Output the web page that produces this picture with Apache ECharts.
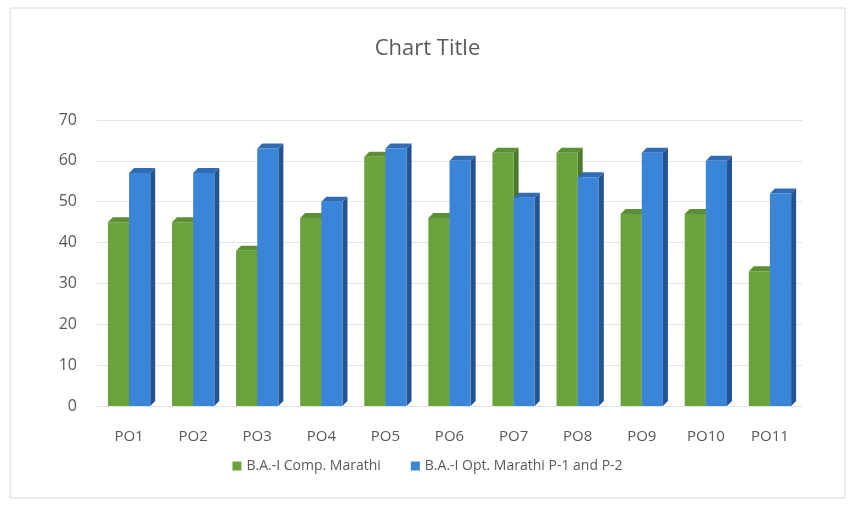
<!DOCTYPE html>
<html>
<head>
<meta charset="utf-8">
<script src="https://cdn.jsdelivr.net/npm/echarts@6/dist/echarts.min.js"></script>
<style>
  html, body { margin: 0; padding: 0; background: #fff; }
  #main { width: 855px; height: 524px; }
</style>
</head>
<body>
<div id="main"></div>
<script>
// data
var categories = ['PO1', 'PO2', 'PO3', 'PO4', 'PO5', 'PO6', 'PO7', 'PO8', 'PO9', 'PO10', 'PO11'];
var compMarathi = [45, 45, 38, 46, 61, 46, 62, 62, 47, 47, 33];
var optMarathi = [57, 57, 63, 50, 63, 60, 51, 56, 62, 60, 52];
var seriesNames = ['B.A.-I Comp. Marathi', 'B.A.-I Opt. Marathi P-1 and P-2'];
var colors = ['#6aa23c', '#3a85d8'];
var sideColors = ['#4b7a28', '#24538f'];
var topColors = ['#5c8f33', '#2f6cb4'];

var myChart = echarts.init(document.getElementById('main'));

// fake 3d bar: front face, right side and top
function bar3d(idx) {
    return function(params, api) {
        var base = api.coord([api.value(0), 0]);
        var top = api.coord([api.value(0), api.value(1)]);
        var bandW = api.size([1, 0])[0];
        var w = bandW * 0.33;
        var x = idx === 0 ? base[0] - w : base[0];
        var d = 5;
        return {
            type: 'group',
            children: [
                {
                    type: 'polygon',
                    shape: { points: [[x + w, top[1]], [x + w + d, top[1] - d], [x + w + d, base[1] - d], [x + w, base[1]]] },
                    style: { fill: sideColors[idx] }
                },
                {
                    type: 'polygon',
                    shape: { points: [[x, top[1]], [x + d, top[1] - d], [x + w + d, top[1] - d], [x + w, top[1]]] },
                    style: { fill: topColors[idx] }
                },
                {
                    type: 'rect',
                    shape: { x: x, y: top[1], width: w, height: base[1] - top[1] },
                    style: { fill: colors[idx] }
                }
            ]
        };
    };
}

var option = {
    backgroundColor: '#fff',
    title: {
        text: 'Chart Title',
        left: 'center',
        top: 33,
        textStyle: { fontFamily: 'Open Sans', fontWeight: 'normal', fontSize: 22, color: '#595959' }
    },
    graphic: [{
        type: 'rect',
        shape: { x: 10, y: 8, width: 835, height: 490 },
        style: { fill: 'none', stroke: '#d9d9d9', lineWidth: 1 }
    }],
    legend: {
        bottom: 46,
        left: 'center',
        itemWidth: 9,
        itemHeight: 9,
        itemGap: 30,
        data: [
            { name: seriesNames[0], icon: 'rect', itemStyle: { color: colors[0] } },
            { name: seriesNames[1], icon: 'rect', itemStyle: { color: colors[1] } }
        ],
        textStyle: { fontFamily: 'Open Sans', fontSize: 14, color: '#595959' }
    },
    grid: { left: 97, right: 53, top: 120, bottom: 118 },
    xAxis: {
        type: 'category',
        data: categories,
        axisLine: { show: false },
        axisTick: { show: false },
        axisLabel: { margin: 23, fontFamily: 'Open Sans', fontSize: 15, color: '#595959' }
    },
    yAxis: {
        type: 'value',
        min: 0,
        max: 70,
        interval: 10,
        axisLine: { show: false },
        axisTick: { show: false },
        axisLabel: { margin: 20, fontFamily: 'Open Sans', fontSize: 16, color: '#595959' },
        splitLine: { lineStyle: { color: '#e3e3e3' } }
    },
    series: [
        {
            name: seriesNames[0],
            type: 'custom',
            renderItem: bar3d(0),
            itemStyle: { color: colors[0] },
            encode: { x: 0, y: 1 },
            data: compMarathi.map(function(v, i) { return [i, v]; })
        },
        {
            name: seriesNames[1],
            type: 'custom',
            renderItem: bar3d(1),
            itemStyle: { color: colors[1] },
            encode: { x: 0, y: 1 },
            data: optMarathi.map(function(v, i) { return [i, v]; })
        }
    ]
};

myChart.setOption(option);
</script>
</body>
</html>
